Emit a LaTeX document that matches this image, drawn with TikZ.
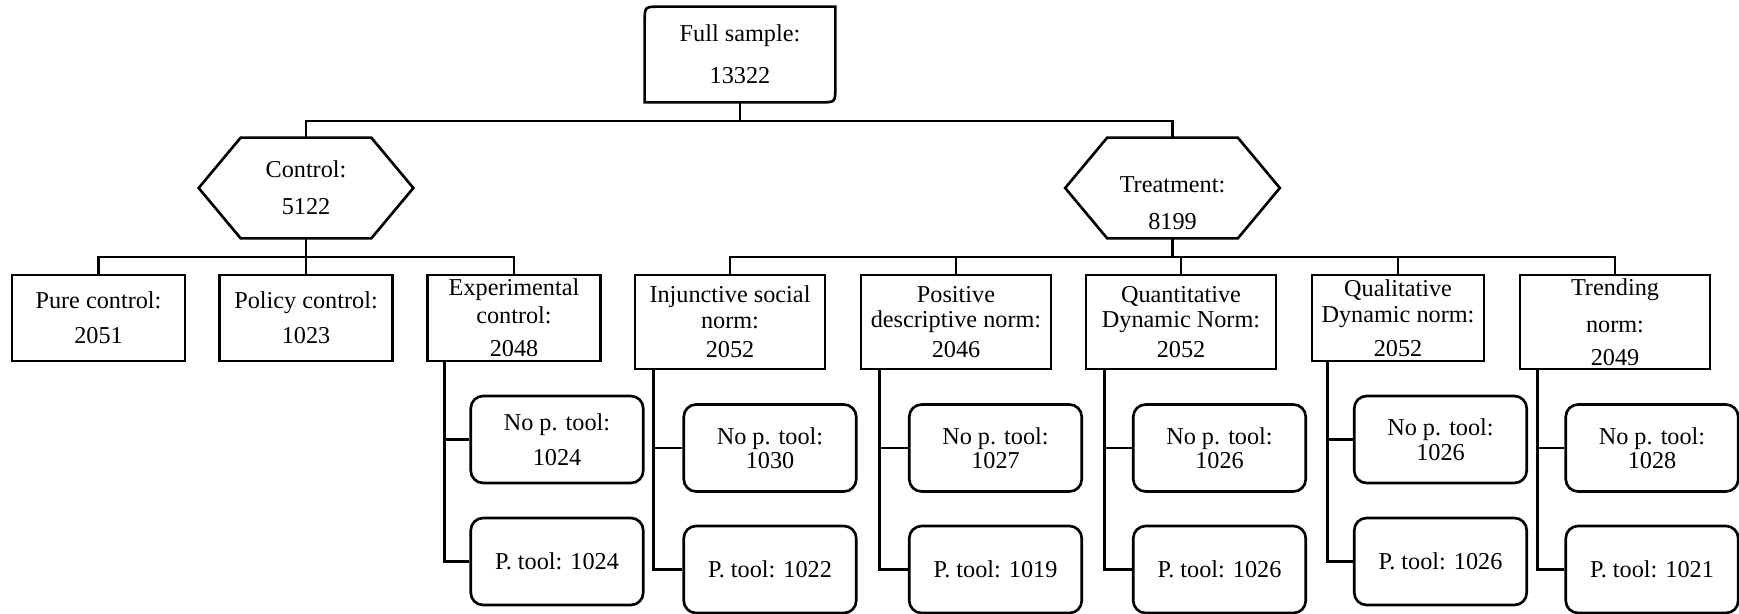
\documentclass[tikz,border=0pt]{standalone}
\usepackage{fontspec}
\setmainfont{Liberation Serif}
\usetikzlibrary{calc}

% outline of the two arm hexagons
\newcommand{\hexoutline}[1]{%
\draw[link] (#1.west) -- ($(#1.north west)+(42,0)$) -- ($(#1.north east)+(-42,0)$)
  -- (#1.east) -- ($(#1.south east)+(-42,0)$) -- ($(#1.south west)+(42,0)$) -- cycle;}

\begin{document}
\begin{tikzpicture}[x=0.02cm, y=-0.02cm,
every node/.style={font=\fontsize{13.8}{15}\selectfont},
link/.style={line width=1.5pt},
grp/.style={rectangle, draw, line width=1.5pt, inner sep=0pt, align=center,
minimum width=3.46cm, minimum height=1.72cm},
arm/.style={grp, minimum width=3.8cm, minimum height=1.88cm},
sub/.style={grp, rounded corners=7pt, minimum width=3.45cm, minimum height=1.74cm},
hexa/.style={inner sep=0pt, align=center, minimum width=4.28cm, minimum height=2cm}]
\useasboundingbox (0,0) rectangle (1739,613);

\node[inner sep=0pt, align=center, minimum width=3.8cm, minimum height=1.9cm] (full) at (740,54.5)
    {Full sample:\\[8.8pt]13322};
\draw[link] (full.north east) -- ($(full.north west)+(15,0)$) .. controls (full.north west) .. ($(full.north west)+(0,15)$)
    -- (full.south west) -- ($(full.south east)+(-15,0)$) .. controls (full.south east) .. ($(full.south east)+(0,-15)$) -- cycle;

\node[hexa] (ctrl)  at (306,188)    {Control:\\[6pt]5122};
\node[hexa] (treat) at (1172.5,188) {\rule{0pt}{26pt}Treatment:\\[6pt]8199};
\hexoutline{ctrl}
\hexoutline{treat}

% control groups
\node[grp] (pure)   at (98.5,318) {Pure control:\\[5pt]2051};
\node[grp] (policy) at (306,318)  {Policy control:\\[5pt]1023};
\node[grp] (exp)    at (514,318)  {Experimental\\[1pt]control:\\[3.7pt]2048};

% treatment groups
\node[arm] (inj)   at (730,322)  {Injunctive social\\[-0.5pt]norm:\\[2pt]2052};
\node[arm] (pos)   at (956,322)  {Positive\\[-0.5pt]descriptive norm:\\[2pt]2046};
\node[arm] (quan)  at (1181,322) {Quantitative\\[-0.5pt]Dynamic Norm:\\[2pt]2052};
\node[grp, minimum width=3.44cm] (qual) at (1398,318) {Qualitative\\Dynamic norm:\\[4pt]2052};
\node[arm] (trend) at (1615,322) {Trending\\[6pt]norm:\\[4pt]2049};

% pledge tool split
\node[sub] (exp-no)   at (557,439.5)    {No p. tool:\\[5pt]1024};
\node[sub] (exp-p)    at (557,561.5)    {P. tool: 1024};
\node[sub] (inj-no)   at (770,448)      {No p. tool:\\[-1pt]1030};
\node[sub] (inj-p)    at (770,569.5)    {P. tool: 1022};
\node[sub] (pos-no)   at (995.5,448)    {No p. tool:\\[-1pt]1027};
\node[sub] (pos-p)    at (995.5,569.5)  {P. tool: 1019};
\node[sub] (quan-no)  at (1219.5,448)   {No p. tool:\\[-1pt]1026};
\node[sub] (quan-p)   at (1219.5,569.5) {P. tool: 1026};
\node[sub] (qual-no)  at (1440.5,439.5) {No p. tool:\\[-1pt]1026};
\node[sub] (qual-p)   at (1440.5,561.5) {P. tool: 1026};
\node[sub] (trend-no) at (1652,448)     {No p. tool:\\[-1pt]1028};
\node[sub] (trend-p)  at (1652,569.5)   {P. tool: 1021};

% tree lines
\coordinate (topbus) at (740,121);
\draw[link] (full.south) -- (topbus);
\draw[link] (ctrl.north) |- (topbus) -| (treat.north);

\coordinate (cbus) at (306,257);
\draw[link] (ctrl.south) -- (policy.north);
\draw[link] (pure.north) |- (cbus) -| (exp.north);

\coordinate (tbus) at (1172.5,257);
\draw[link] (treat.south) -- (tbus);
\draw[link] (inj.north) |- (tbus) -| (trend.north);
\draw[link] (pos.north) -- (pos.north |- tbus);
\draw[link] (quan.north) -- (quan.north |- tbus);
\draw[link] (qual.north) -- (qual.north |- tbus);

\foreach \p/\o in {exp/18, inj/20, pos/20, quan/20, qual/17, trend/19} {
  \coordinate (\p-br) at ($(\p.south west)+(\o,0)$);
  \draw[link] (\p-br) |- (\p-no.west);
  \draw[link] (\p-br) |- (\p-p.west);
}
\end{tikzpicture}
\end{document}
